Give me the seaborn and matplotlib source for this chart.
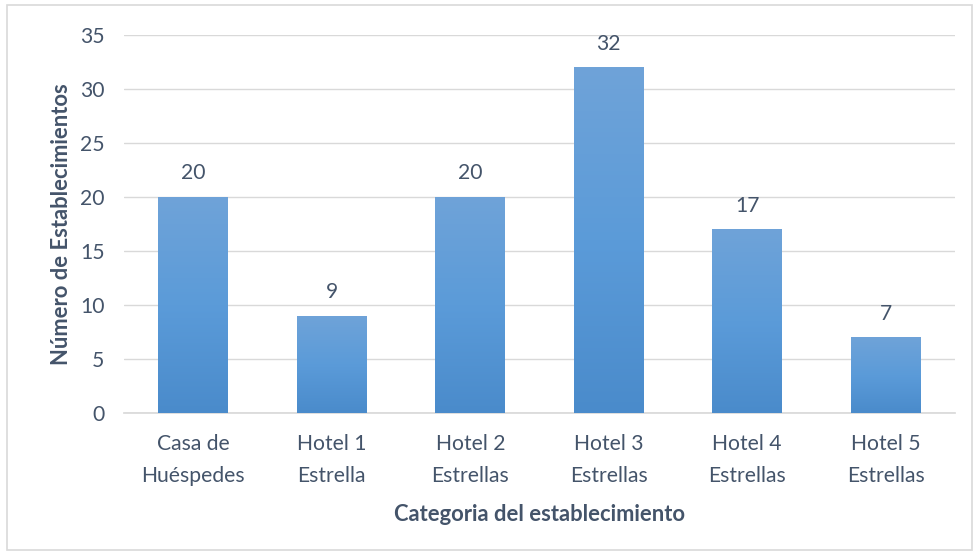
import numpy as np
import pandas as pd
import matplotlib
matplotlib.use("Agg")
import matplotlib.pyplot as plt
import seaborn as sns
from matplotlib.colors import LinearSegmentedColormap
from matplotlib.patches import Rectangle

categories = ["Casa de\nHuéspedes", "Hotel 1\nEstrella", "Hotel 2\nEstrellas",
              "Hotel 3\nEstrellas", "Hotel 4\nEstrellas", "Hotel 5\nEstrellas"]
values = [20, 9, 20, 32, 17, 7]
yticks = [0, 5, 10, 15, 20, 25, 30, 35]

sns.set_theme(style="white")
plt.rcParams['font.family'] = ['Lato', 'DejaVu Sans']
txt = "#44546A"
fs = 15.2

fig = plt.figure(figsize=(9.74, 5.54), dpi=100)
fig.patches.append(Rectangle((7/974, 4/554), 965/974, 545/554, transform=fig.transFigure,
                             fill=False, edgecolor="#d9d9d9", linewidth=1.2))
ax = fig.add_axes([124/974, 1-413/554, (955-124)/974, (413-35)/554])

df = pd.DataFrame({"cat": categories, "val": values})
sns.barplot(data=df, x="cat", y="val", ax=ax, width=0.505, color="#5b9bd5",
            saturation=1, edgecolor="none", zorder=3)

ax.set_ylim(0, 35)
ax.set_yticks(yticks)
ax.grid(axis="y", color="#d9d9d9", linewidth=1, zorder=0)
ax.set_axisbelow(True)
for s in ["top", "right", "left"]:
    ax.spines[s].set_visible(False)
ax.spines["bottom"].set_color("#d9d9d9")
ax.tick_params(axis="both", length=0, labelsize=fs, colors=txt)
ax.tick_params(axis="y", pad=14)
ax.tick_params(axis="x", pad=15)
for lab in ax.get_xticklabels():
    lab.set_linespacing(1.75)
ax.set_xlabel("Categoria del establecimiento", fontsize=15.8, fontweight="bold", color=txt, labelpad=13)
ax.set_ylabel("Número de Establecimientos", fontsize=15.8, fontweight="bold", color=txt, labelpad=6)

cmap = LinearSegmentedColormap.from_list("g", ["#4a8bcb", "#5b9bd9", "#6fa3d8"])
grad = np.linspace(0, 1, 256).reshape(-1, 1)
for p in ax.patches:
    x0, y0 = p.get_x(), p.get_y()
    w, h = p.get_width(), p.get_height()
    im = ax.imshow(grad, cmap=cmap, extent=[x0, x0 + w, y0, y0 + h], origin="lower",
                   aspect="auto", zorder=4)
    im.set_clip_path(p)
    ax.annotate(f"{int(h)}", (x0 + w / 2, h), xytext=(0, 10), textcoords="offset points",
                ha="center", va="bottom", fontsize=fs, color=txt)

ax.set_xlim(-0.5, len(categories) - 0.5)
ax.set_ylim(0, 35)
fig.savefig("out.png", dpi=100)
